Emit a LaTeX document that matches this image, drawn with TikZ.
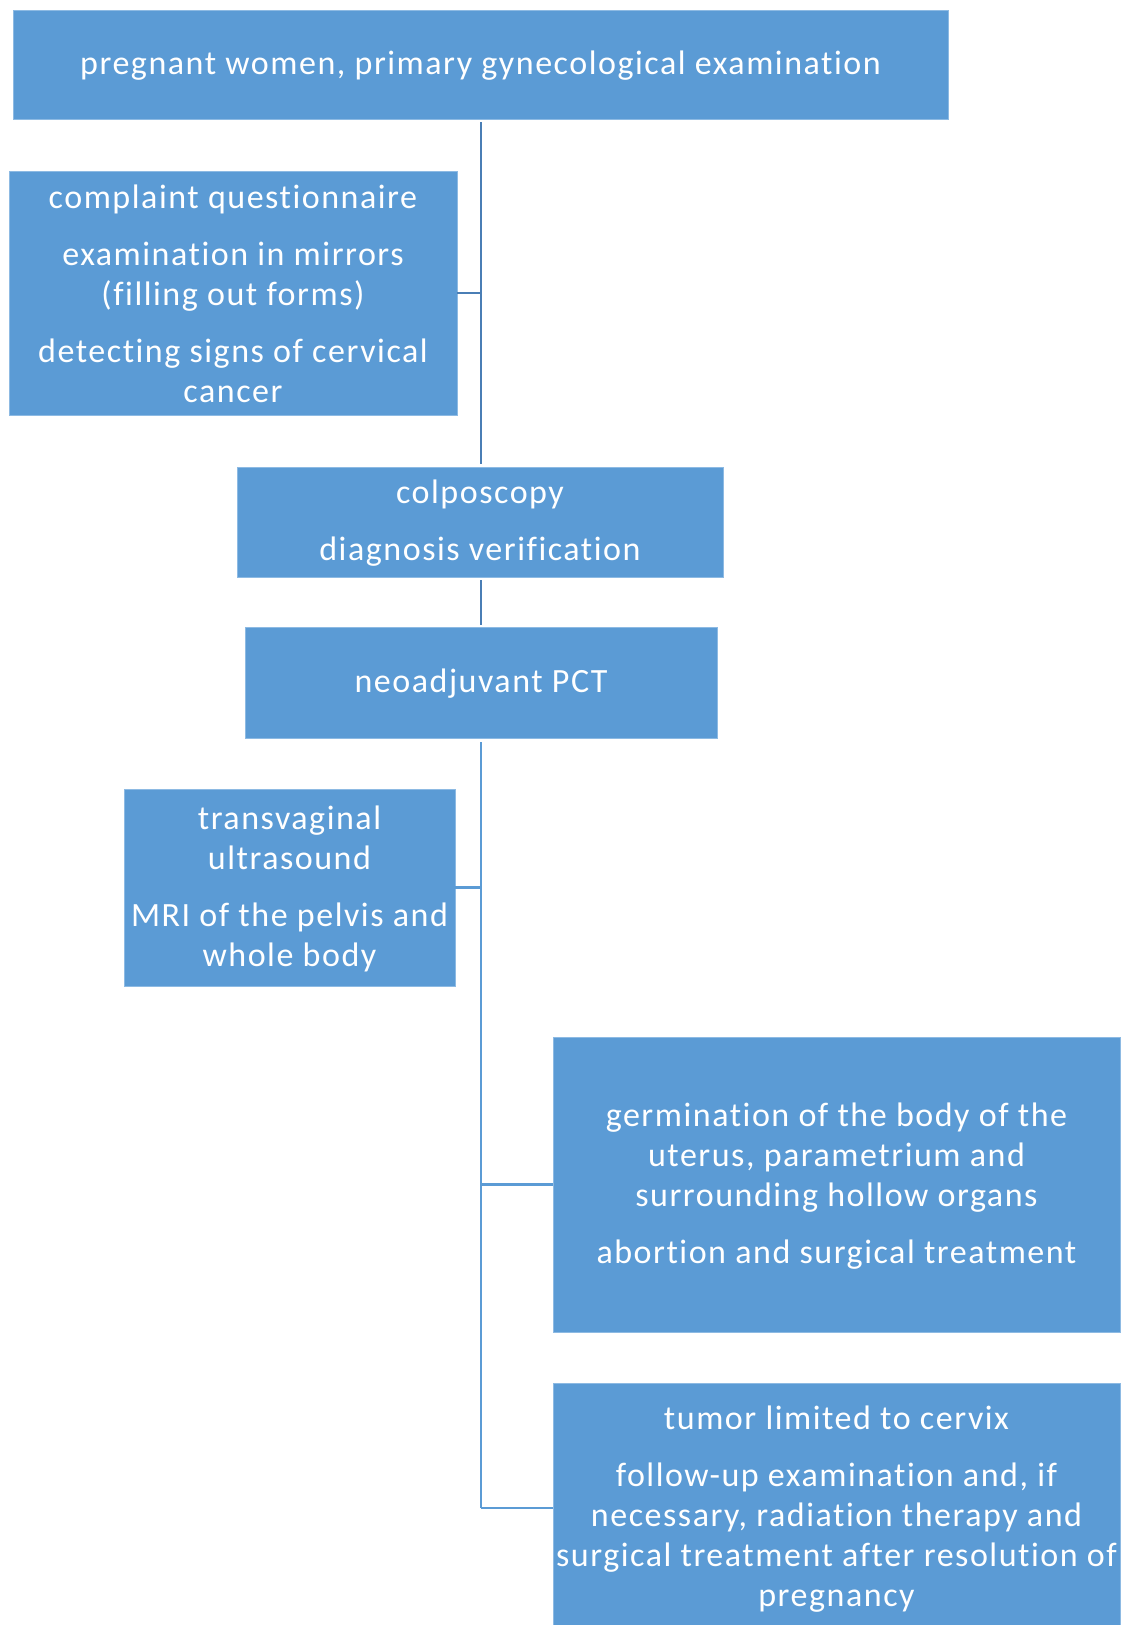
\documentclass[tikz,border=0pt]{standalone}
\usepackage{fontspec}
\setmainfont{Carlito}[LetterSpace=4.5,Ligatures=NoCommon]
\definecolor{boxblue}{HTML}{5B9BD5}
\definecolor{linedark}{HTML}{4A7EB5}
\definecolor{linelight}{HTML}{5B9BD5}
\definecolor{edge}{HTML}{8DBAE3}
\tikzset{
  box/.style={draw=edge, line width=0.8pt, fill=boxblue, inner sep=0pt, outer sep=0pt},
  txt/.style={text=white, align=center, font=\fontsize{34}{40}\selectfont, inner sep=0pt},
  conndark/.style={draw=linedark, line width=2.8pt},
  connlight/.style={draw=linelight, line width=2.8pt},
}
\begin{document}
\begin{tikzpicture}[x=1pt,y=-1pt]
\useasboundingbox (0,0) rectangle (1128,1625);
\fill[white] (0,0) rectangle (1128,1625);
% boxes
\node[box, minimum width=935, minimum height=109] (b1) at (480.5,64.5) {};
\node[box, minimum width=448, minimum height=244] (b2) at (233,293) {};
\node[box, minimum width=486, minimum height=110] (b3) at (480,522) {};
\node[box, minimum width=472, minimum height=111] (b4) at (481,682.5) {};
\node[box, minimum width=331, minimum height=197] (b5) at (289.5,887.5) {};
\node[box, minimum width=567, minimum height=295] (b6) at (836.5,1184.5) {};
\node[box, minimum width=567, minimum height=300] (b7) at (836.5,1533) {};
% texts
\node[txt] (t1) at (480.5,66) {pregnant women, primary gynecological examination};
\node[txt] (t2) at (233,294) {complaint questionnaire\\[17pt]examination in mirrors\\(filling out forms)\\[17pt]detecting signs of cervical\\cancer};
\node[txt] (t3) at (480,523.5) {colposcopy\\[17pt]diagnosis verification};
\node[txt] (t4) at (481,684) {neoadjuvant PCT};
\node[txt] (t5) at (289.5,889) {transvaginal\\ultrasound\\[17pt]MRI of the pelvis and\\whole body};
\node[txt] (t6) at (836.5,1186.5) {germination of the body of the\\uterus, parametrium and\\surrounding hollow organs\\[17pt]abortion and surgical treatment};
\node[txt] (t7) at (836.5,1509.5) {tumor limited to cervix\\[17pt]follow-up examination and, if\\necessary, radiation therapy and\\surgical treatment after resolution of\\pregnancy};
% spine coordinates
\coordinate (s1) at (481,122);
\coordinate (s2) at (481,464);
\coordinate (s3) at (481,580);
\coordinate (s4) at (481,625);
\coordinate (s5) at (481,742);
\coordinate (s6) at (481,1508);
% connectors
\draw[conndark] (s1) -- (s2);
\draw[conndark] (b2.east) -- (b2.east -| s1);
\draw[conndark] (s3) -- (s4);
\draw[connlight] (s5) -- (s6);
\draw[connlight] (b5.east) -- (b5.east -| s5);
\draw[connlight] (b6.west -| s5) -- (b6.west);
\draw[connlight] (s6) -- (s6 -| b7.west);
\end{tikzpicture}
\end{document}
